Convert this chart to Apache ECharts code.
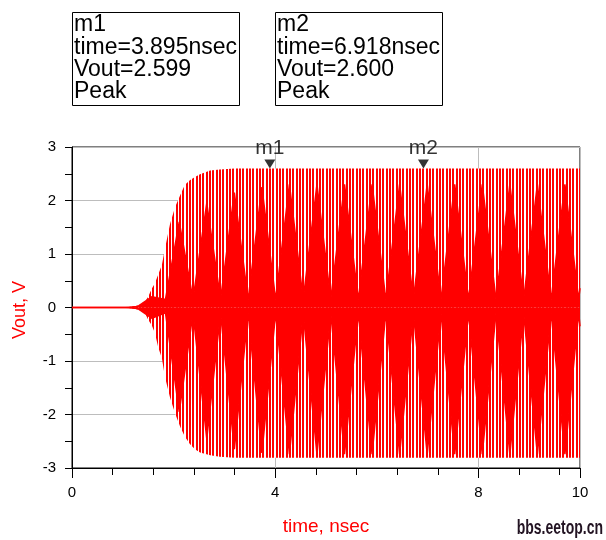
<!DOCTYPE html>
<html><head><meta charset="utf-8">
<script src="https://cdn.jsdelivr.net/npm/echarts@6/dist/echarts.min.js"></script>
<style>html,body{margin:0;padding:0;background:#fff}#c{width:606px;height:540px}</style>
</head><body><div id="c"></div>
<script>
// Outer envelope of the oscillation (peak values), time in nsec
const envTimes = [0, 1.05, 1.2, 1.34, 1.44, 1.5, 1.57, 1.63, 1.7, 1.77, 1.83, 1.93, 2.03, 2.13, 2.22, 2.32, 2.42, 2.52, 2.72, 2.91, 3.2, 10];
const envUpper = [0, 0, 0.02, 0.05, 0.11, 0.2, 0.35, 0.45, 0.62, 0.8, 1.1, 1.56, 1.88, 2.1, 2.29, 2.38, 2.44, 2.49, 2.56, 2.58, 2.6, 2.6];
const envLower = [0, 0, -0.02, -0.05, -0.11, -0.23, -0.33, -0.47, -0.75, -0.95, -1.3, -1.68, -1.98, -2.23, -2.41, -2.55, -2.65, -2.71, -2.76, -2.79, -2.81, -2.81];
// Inner solid (beat) region: lens centres and necks
const lensTimes = [0, 1.05, 1.297, 1.569, 1.840, 2.111, 2.382, 2.653, 2.924, 3.196, 3.467, 3.738, 4.009, 4.280, 4.551, 4.822, 5.093, 5.365, 5.636, 5.907, 6.178, 6.449, 6.720, 6.992, 7.263, 7.534, 7.805, 8.076, 8.347, 8.619, 8.890, 9.161, 9.432, 9.703, 9.974, 10];
const lensUpper = [0, 0, 0.02, 0.2, 0.15, 1.6, 0.15, 1.95, 0.15, 2.15, 0.15, 2.25, 0.15, 2.3, 0.15, 2.3, 0.15, 2.3, 0.15, 2.3, 0.15, 2.3, 0.15, 2.3, 0.15, 2.3, 0.15, 2.3, 0.15, 2.3, 0.15, 2.3, 0.15, 2.3, 0.15, 0.36];
const lensLower = [0, 0, -0.02, -0.2, -0.1, -1.95, -0.1, -2.45, -0.1, -2.65, -0.1, -2.72, -0.1, -2.74, -0.1, -2.74, -0.1, -2.74, -0.1, -2.74, -0.1, -2.74, -0.1, -2.74, -0.1, -2.74, -0.1, -2.74, -0.1, -2.74, -0.1, -2.74, -0.1, -2.74, -0.1, -0.35];
// Markers
const markerNames = ['m1', 'm2'];
const markerTimes = [3.895, 6.918];
const markerValues = [2.599, 2.600];
const markerInfo = ['m1\ntime=3.895nsec\nVout=2.599\nPeak', 'm2\ntime=6.918nsec\nVout=2.600\nPeak'];

const FONT = 'Liberation Sans, Arial, sans-serif';
const pc = document.createElement('canvas');
pc.width = 10; pc.height = 4;
const g = pc.getContext('2d');
g.fillStyle = '#ff0000'; g.fillRect(0, 0, 10, 4);
g.fillStyle = '#ffffff'; [1, 4, 5, 8].forEach(x => g.fillRect(x, 0, 1, 4));
const stripe = { image: pc, repeat: 'repeat' };

const pairs = (t, v) => t.map((x, i) => [x, v[i]]);
const chart = echarts.init(document.getElementById('c'), null, { renderer: 'canvas' });
const axisBlack = { lineStyle: { color: '#000', width: 1 } };
const option = {
  animation: false,
  backgroundColor: '#fff',
  grid: { left: 72, right: 26, top: 147, bottom: 72, show: true, borderColor: '#000', borderWidth: 1, backgroundColor: 'transparent' },
  xAxis: {
    type: 'value', min: 0, max: 10, interval: 4,
    axisLine: { show: true, onZero: false, ...axisBlack },
    axisTick: { show: true, length: 10, ...axisBlack },
    minorTick: { show: true, splitNumber: 5, length: 7, ...axisBlack },
    axisLabel: { color: '#000', fontSize: 15, fontFamily: FONT, margin: 17, showMaxLabel: true },
    splitLine: { show: true, lineStyle: { color: '#bdbdbd', width: 1 } }
  },
  yAxis: {
    type: 'value', min: -3, max: 3, interval: 1,
    axisLine: { show: true, onZero: false, ...axisBlack },
    axisTick: { show: true, length: 7, ...axisBlack },
    minorTick: { show: true, splitNumber: 2, length: 7, ...axisBlack },
    axisLabel: { color: '#000', fontSize: 15, fontFamily: FONT, margin: 16 },
    splitLine: { show: true, lineStyle: { color: '#bdbdbd', width: 1 } }
  },
  series: [
    { type: 'line', data: pairs(envTimes, envUpper), symbol: 'none', silent: true, z: 1,
      lineStyle: { width: 0, opacity: 0 }, areaStyle: { color: stripe, opacity: 1 } },
    { type: 'line', data: pairs(envTimes, envLower), symbol: 'none', silent: true, z: 1,
      lineStyle: { width: 0, opacity: 0 }, areaStyle: { color: stripe, opacity: 1 } },
    { type: 'line', data: pairs(lensTimes, lensUpper), symbol: 'none', silent: true, z: 2,
      lineStyle: { color: '#ff0000', width: 1.5 }, areaStyle: { color: '#ff0000', opacity: 1 } },
    { type: 'line', data: pairs(lensTimes, lensLower), symbol: 'none', silent: true, z: 2,
      lineStyle: { color: '#ff0000', width: 1.5 }, areaStyle: { color: '#ff0000', opacity: 1 } },
    { type: 'scatter', z: 5,
      data: markerTimes.map((t, i) => ({ name: markerNames[i], value: [t, markerValues[i]] })),
      symbol: 'triangle', symbolRotate: 180, symbolSize: [11, 9], symbolOffset: [0, -4.5],
      itemStyle: { color: '#000' },
      label: { show: true, position: 'top', distance: 1, formatter: p => p.name, color: '#000', fontSize: 21, fontFamily: FONT } }
  ],
  graphic: [
    { type: 'rect', shape: { x: 72.5, y: 12.5, width: 167, height: 93 }, style: { fill: 'none', stroke: '#000', lineWidth: 1 } },
    { type: 'rect', shape: { x: 275.5, y: 12.5, width: 167, height: 93 }, style: { fill: 'none', stroke: '#000', lineWidth: 1 } },
    { type: 'text', x: 74, y: 14, style: { text: markerInfo[0], font: '23px ' + FONT, lineHeight: 22.2, fill: '#000' } },
    { type: 'text', x: 277, y: 14, style: { text: markerInfo[1], font: '23px ' + FONT, lineHeight: 22.2, fill: '#000' } },
    { type: 'text', x: 20, y: 310, rotation: Math.PI / 2, style: { text: 'Vout, V', font: '18px ' + FONT, fill: '#ff0000', align: 'center', verticalAlign: 'middle' } },
    { type: 'text', x: 326, y: 527, style: { text: 'time, nsec', font: '19px ' + FONT, fill: '#ff0000', align: 'center', verticalAlign: 'middle' } },
    { type: 'group', x: 603, y: 528, scaleX: 0.7, children: [
      { type: 'text', x: 0, y: 0, style: { text: 'bbs.eetop.cn', font: 'bold 20px ' + FONT, fill: '#231423', align: 'right', verticalAlign: 'middle' } }
    ] }
  ]
};
chart.setOption(option);
</script>
</body></html>
